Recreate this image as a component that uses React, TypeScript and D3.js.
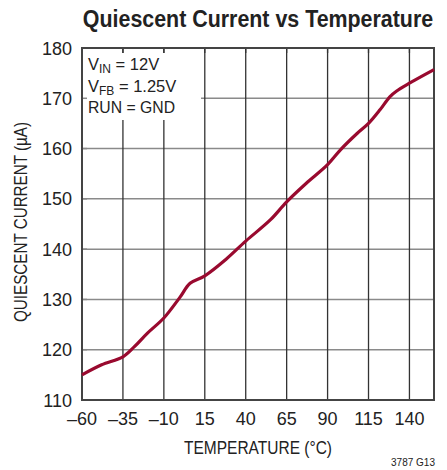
import * as d3 from "d3";
import React, { useLayoutEffect, useRef } from "react";

// temperature (°C) vs quiescent current (µA)
const temps = [-60, -48, -35, -28, -20, -10, 0, 6, 15, 28, 40, 55, 65, 77, 90, 98, 108, 115, 122, 128, 132, 140, 155];
const current = [115.0, 117.0, 118.6, 120.6, 123.3, 126.3, 130.5, 133.2, 134.7, 138.0, 141.6, 145.8, 149.4, 153.1, 156.8, 159.8, 163.0, 165.0, 167.7, 170.3, 171.4, 173.0, 175.7];

const xTicks = [-60, -35, -10, 15, 40, 65, 90, 115, 140];
const yTicks = [110, 120, 130, 140, 150, 160, 170, 180];

const W = 447;
const H = 470;
const left = 82;
const right = 434;
const top = 48;
const bottom = 400;

const FONT = "'Liberation Sans', Arial, sans-serif";
const LINE = "#990a2f";
const TEXT = "#222";

const App = () => {
  const titleRef = useRef<SVGTextElement>(null);

  const x = d3.scaleLinear().domain([-60, 155]).range([left, right]);
  const y = d3.scaleLinear().domain([110, 180]).range([bottom, top]);

  const pts = temps.map((t, i) => [t, current[i]] as [number, number]);
  const line = d3
    .line<[number, number]>()
    .x((d) => x(d[0]))
    .y((d) => y(d[1]))
    .curve(d3.curveCatmullRom.alpha(0.5));

  // squeeze the bold title to the plot width (condensed look)
  useLayoutEffect(() => {
    const t = titleRef.current;
    if (!t) return;
    const w = t.getComputedTextLength();
    const sx = Math.min(1, 350 / w);
    const cx = (left + right) / 2;
    t.setAttribute("transform", `translate(${cx},27) scale(${sx},1)`);
  }, []);

  const tickLen = 5;

  return (
    <svg
      width={W}
      height={H}
      style={{ position: "absolute", left: 0, top: 0, background: "#fff" }}
      fontFamily={FONT}
    >
      {/* title */}
      <text
        ref={titleRef}
        transform={`translate(${(left + right) / 2},27) scale(0.82,1)`}
        textAnchor="middle"
        fontSize={23.5}
        fontWeight="bold"
        fill={TEXT}
      >
        Quiescent Current vs Temperature
      </text>

      {/* grid */}
      {yTicks.slice(1, -1).map((v) => (
        <line key={"h" + v} x1={left} x2={right} y1={y(v)} y2={y(v)} stroke="#8a8a8a" strokeWidth={1.5} />
      ))}
      {xTicks.slice(1).map((v) => (
        <line key={"v" + v} x1={x(v)} x2={x(v)} y1={top} y2={bottom} stroke="#333" strokeWidth={1.3} />
      ))}

      {/* annotation box hides the grid */}
      <rect x={left + 1} y={top + tickLen} width={118} height={67} fill="#fff" />
      {xTicks.slice(1).map((v) => (
        <line key={"t" + v} x1={x(v)} x2={x(v)} y1={top} y2={top + tickLen} stroke="#333" strokeWidth={1.3} />
      ))}
      {yTicks.slice(1, -1).map((v) => (
        <line key={"l" + v} x1={left} x2={left + tickLen} y1={y(v)} y2={y(v)} stroke="#8a8a8a" strokeWidth={1.5} />
      ))}

      <g fontSize={16.5} fill={TEXT}>
        <text x={88} y={70}>
          V<tspan fontSize={12} dy={3}>IN</tspan>
          <tspan dy={-3}> = 12V</tspan>
        </text>
        <text x={88} y={92}>
          V<tspan fontSize={12} dy={3}>FB</tspan>
          <tspan dy={-3}> = 1.25V</tspan>
        </text>
        <text x={88} y={113} textLength={87} lengthAdjust="spacingAndGlyphs">
          RUN = GND
        </text>
      </g>

      {/* frame */}
      <rect x={left} y={top} width={right - left} height={bottom - top} fill="none" stroke="#444" strokeWidth={2} />

      {/* curve */}
      <path d={line(pts) ?? ""} fill="none" stroke={LINE} strokeWidth={3.2} strokeLinejoin="round" />

      {/* y tick labels */}
      {yTicks.map((v) => (
        <text key={"yl" + v} x={72} y={y(v) + 6.5} textAnchor="end" fontSize={18} fill={TEXT}>
          {v}
        </text>
      ))}
      {/* x tick labels */}
      {xTicks.map((v) => (
        <text key={"xl" + v} x={x(v)} y={425} textAnchor="middle" fontSize={18} fill={TEXT}>
          {v < 0 ? "\u2013" + Math.abs(v) : v}
        </text>
      ))}

      <text
        x={(left + right) / 2}
        y={454}
        textAnchor="middle"
        fontSize={18}
        fill={TEXT}
        textLength={148}
        lengthAdjust="spacingAndGlyphs"
      >
        TEMPERATURE (°C)
      </text>
      <text
        transform="translate(27, 222) rotate(-90)"
        textAnchor="middle"
        fontSize={18}
        fill={TEXT}
        textLength={200}
        lengthAdjust="spacingAndGlyphs"
      >
        QUIESCENT CURRENT (µA)
      </text>
      <text x={435} y={466} textAnchor="end" fontSize={10} fill={TEXT}>
        3787 G13
      </text>
    </svg>
  );
};

export default App;
